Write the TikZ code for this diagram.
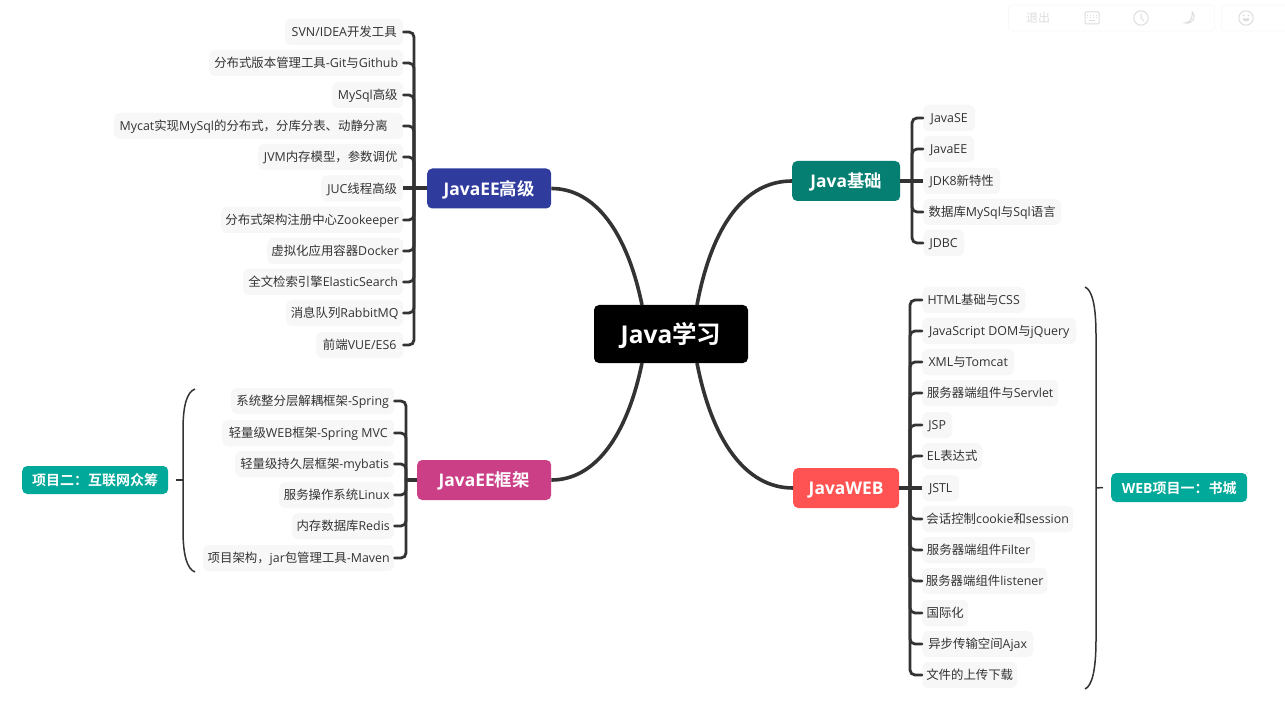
\documentclass[tikz,border=0pt]{standalone}
\usepackage{fontspec}
\setmainfont{Open Sans}
\newfontfamily\cjkf{Noto Sans CJK SC}[BoldFont={* Bold}]
\newcommand{\Z}[1]{{\cjkf #1}}
\newcommand{\Dn}[1]{\raisebox{-0.4em}[0pt][0pt]{#1}}
\definecolor{ink}{HTML}{333333}
\definecolor{leaffill}{HTML}{F7F7F7}
\definecolor{teal1}{HTML}{00A99A}
\definecolor{tool}{HTML}{DDDDDD}
\definecolor{cadv}{RGB}{47,60,158}
\definecolor{cfw}{RGB}{203,63,135}
\definecolor{cbase}{RGB}{4,127,113}
\definecolor{cweb}{RGB}{255,82,82}
\tikzset{
  x=1pt,y=-1pt,
  leaf/.style={fill=leaffill,rounded corners=6pt,inner sep=0pt,minimum height=26pt,text=ink,font=\fontsize{12.4}{14}\selectfont,anchor=west},
  topic/.style={rounded corners=5pt,inner sep=0pt,minimum height=40pt,text=white,font=\fontsize{17.4}{20}\selectfont\bfseries,anchor=west},
  tag/.style={fill=teal1,rounded corners=5pt,inner sep=0pt,minimum height=28pt,text=white,font=\fontsize{14}{16}\selectfont\bfseries,anchor=west},
  branch/.style={draw=ink,line width=2.8pt,rounded corners=5pt,line cap=round},
  stem/.style={draw=ink,line width=4pt},
  bough/.style={draw=ink,line width=3.6pt},
  brace/.style={draw=ink,line width=1.5pt},
  toolbox/.style={draw=leaffill,line width=.7pt,rounded corners=3pt,fill=white,inner sep=0pt,anchor=west},
  toolico/.style={draw=tool,line width=1pt},
}
\newcommand{\leafnode}[5]{%
  \pgfmathsetlengthmacro{\leafw}{(#3-#2)*1pt}%
  \node[leaf,minimum width=\leafw] (#1) at (#2,#4) {\Dn{#5}};}
\begin{document}
\begin{tikzpicture}
\useasboundingbox (0,0) rectangle (1285,719);
\fill[white] (0,0) rectangle (1285,719);

% toolbar
\node[toolbox,minimum width=206pt,minimum height=26pt] (bar) at (1008,18) {};
\node[toolbox,minimum width=70pt,minimum height=26pt] (bar2) at (1221,18) {};
\node[text=tool,inner sep=0pt,font=\cjkf\fontsize{12}{14}\selectfont] (quit) at (1038,18) {退出};
\draw[toolico,rounded corners=1pt] (1085,12) rectangle (1099,24);
\draw[toolico,dotted] (1087,15.5) -- (1097,15.5) (1087,18) -- (1097,18);
\draw[toolico] (1089,21) -- (1095,21);
\draw[toolico] (1141,18) circle (7.2);
\draw[toolico] (1141,13.5) -- (1141,18) -- (1144,21);
\draw[toolico] (1192,11.5) .. controls (1197,17) and (1193,24) .. (1185,23) .. controls (1191,22) and (1193,17) .. (1192,11.5);
\draw[toolico] (1246,18) circle (7.2);
\fill[tool] (1243.5,15.5) circle (1) (1248.5,15.5) circle (1);
\fill[tool] (1242.5,18.5) .. controls (1243,22.5) and (1249,22.5) .. (1249.5,18.5) -- cycle;

% centre and topics
\node[fill=black,rounded corners=5pt,inner sep=0pt,minimum width=154pt,minimum height=58pt,text=white,font=\fontsize{24.5}{28}\selectfont\bfseries] (main) at (671,334) {\Dn{Java\Z{学习}}};
\node[topic,fill=cadv,minimum width=124pt] (adv) at (427,188.5) {\Dn{JavaEE\Z{高级}}};
\node[topic,fill=cfw,minimum width=134pt] (fw) at (417,480) {\Dn{JavaEE\Z{框架}}\hspace{10pt}};
\node[topic,fill=cbase,minimum width=108pt] (base) at (792,181) {\Dn{Java\Z{基础}}};
\node[topic,fill=cweb,minimum width=106pt] (web) at (793,488) {\Dn{JavaWEB}};

\coordinate (ml) at (642,305);
\coordinate (mr) at (697,305);
\coordinate (nl) at (642,363);
\coordinate (nr) at (697,363);
\draw[bough] (ml) .. controls (627,232) and (595,188.5) .. (adv.east);
\draw[bough] (nl) .. controls (627,436) and (595,480) .. (fw.east);
\draw[bough] (mr) .. controls (712,225) and (745,181) .. (base.west);
\draw[bough] (nr) .. controls (712,440) and (745,488) .. (web.west);

% JavaEE advanced
\leafnode{a1}{285}{403}{32}{SVN/IDEA\Z{开发工具}}
\leafnode{a2}{209}{403}{63}{\Z{分布式版本管理工具}-Git\Z{与}Github}
\leafnode{a3}{332}{403}{95}{MySql\Z{高级}}
\leafnode{a4}{114}{403}{126}{Mycat\Z{实现}MySql\Z{的分布式，分库分表、动静分离}\hspace{10pt}}
\leafnode{a5}{258}{403}{157}{JVM\Z{内存模型，参数调优}}
\leafnode{a6}{321}{403}{188.5}{JUC\Z{线程高级}}
\leafnode{a7}{221}{403}{220}{\Z{分布式架构注册中心}Zookeeper}
\leafnode{a8}{267}{403}{251}{\Z{虚拟化应用容器}Docker}
\leafnode{a9}{243}{403}{282}{\Z{全文检索引擎}ElasticSearch}
\leafnode{a10}{286}{403}{313}{\Z{消息队列}RabbitMQ}
\leafnode{a11}{316}{403}{345}{\Z{前端}VUE/ES6}
\coordinate (ka) at (414,188.5);
\draw[stem] (adv.west) -- (a6.east);
\foreach \n in {a1,a2,a3,a4,a5,a7,a8,a9,a10,a11}{\draw[branch] (\n.east) -| (ka);}

% JavaEE frameworks
\leafnode{f1}{231}{394}{401}{\Z{系统整分层解耦框架}-Spring}
\leafnode{f2}{222}{394}{433}{\Z{轻量级}WEB\Z{框架}-Spring MVC}
\leafnode{f3}{235}{394}{464}{\Z{轻量级持久层框架}-mybatis}
\leafnode{f4}{279}{394}{495}{\Z{服务操作系统}Linux}
\leafnode{f5}{292}{394}{526}{\Z{内存数据库}Redis}
\leafnode{f6}{203}{394}{558}{\Z{项目架构，}jar\Z{包管理工具}-Maven}
\coordinate (kf) at (406,480);
\draw[stem] (fw.west) -- (kf);
\foreach \n in {f1,f2,f3,f4,f5,f6}{\draw[branch] (\n.east) -| (kf);}

% Java basics
\leafnode{b1}{923}{975}{118}{JavaSE}
\leafnode{b2}{923}{974}{149}{JavaEE}
\leafnode{b3}{923}{1000}{181}{JDK8\Z{新特性}}
\leafnode{b4}{923}{1061}{212}{\Z{数据库}MySql\Z{与}Sql\Z{语言}}
\leafnode{b5}{923}{964}{243}{JDBC}
\coordinate (kb) at (912,181);
\draw[stem] (base.east) -- (b3.west);
\foreach \n in {b1,b2,b4,b5}{\draw[branch] (\n.west) -| (kb);}

% JavaWEB
\leafnode{w1}{922}{1025}{300}{HTML\Z{基础与}CSS}
\leafnode{w2}{922}{1076}{331}{JavaScript DOM\Z{与}jQuery}
\leafnode{w3}{922}{1014}{362}{XML\Z{与}Tomcat}
\leafnode{w4}{922}{1058}{393}{\Z{服务器端组件与}Servlet}
\leafnode{w5}{922}{952}{425}{JSP}
\leafnode{w6}{922}{982}{456}{EL\Z{表达式}}
\leafnode{w7}{922}{959}{488}{JSTL}
\leafnode{w8}{922}{1073}{519}{\Z{会话控制}cookie\Z{和}session}
\leafnode{w9}{922}{1035}{550}{\Z{服务器端组件}Filter}
\leafnode{w10}{922}{1047}{581}{\Z{服务器端组件}listener}
\leafnode{w11}{922}{968}{613}{\Z{国际化}}
\leafnode{w12}{922}{1033}{644}{\Z{异步传输空间}Ajax}
\leafnode{w13}{922}{1017}{675}{\Z{文件的上传下载}}
\coordinate (kw) at (910,488);
\draw[stem] (web.east) -- (w7.west);
\foreach \n in {w1,w2,w3,w4,w5,w6,w8,w9,w10,w11,w12,w13}{\draw[branch] (\n.west) -| (kw);}

% summaries
\node[tag,minimum width=146pt] (t2) at (22,480) {\Dn{\Z{项目二：互联网众筹}}};
\node[tag,minimum width=136pt,minimum height=29pt] (t1) at (1111,487.5) {\Dn{WEB\Z{项目一：书城}}};
\coordinate (lb) at (183,480);
\coordinate (rb) at (1096,488);
\draw[brace] (t2.east) ++(8,0) -- (lb);
\draw[brace] (195,389) .. controls (187,392) and (183,405) .. (183,430) -- (lb) -- (183,530) .. controls (183,555) and (187,569) .. (195,572);
\draw[brace] (t1.west) ++(-8,0) -- (rb);
\draw[brace] (1085,287) .. controls (1092,290) and (1096,305) .. (1096,335) -- (rb) -- (1096,640) .. controls (1096,670) and (1092,686) .. (1085,689);
\end{tikzpicture}
\end{document}
